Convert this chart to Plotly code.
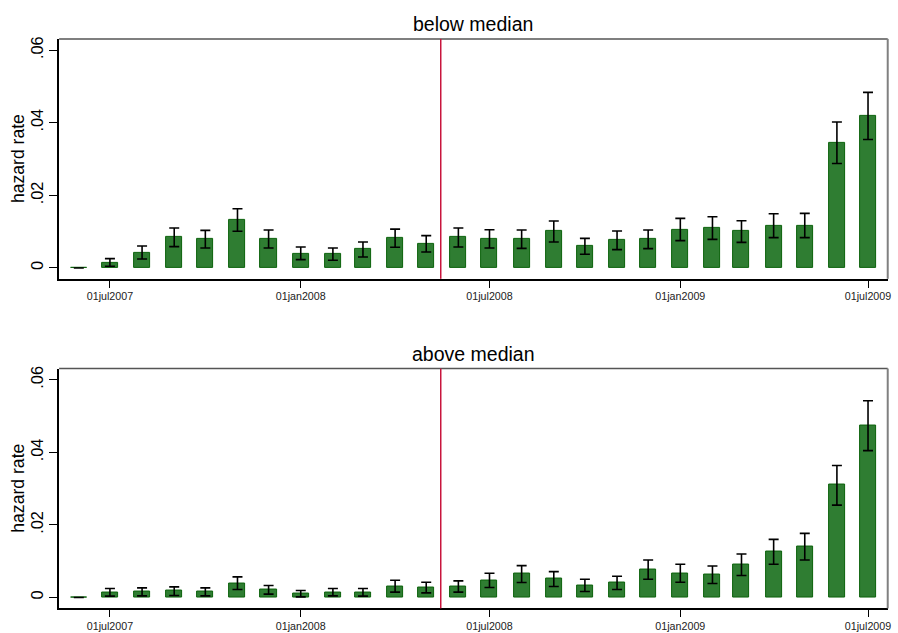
import plotly.graph_objects as go

months = ["2007-06-01", "2007-07-01", "2007-08-01", "2007-09-01", "2007-10-01", "2007-11-01",
          "2007-12-01", "2008-01-01", "2008-02-01", "2008-03-01", "2008-04-01", "2008-05-01",
          "2008-06-01", "2008-07-01", "2008-08-01", "2008-09-01", "2008-10-01", "2008-11-01",
          "2008-12-01", "2009-01-01", "2009-02-01", "2009-03-01", "2009-04-01", "2009-05-01",
          "2009-06-01", "2009-07-01"]

below_rate = [0.0, 0.00147, 0.00421, 0.00852, 0.00806, 0.01328, 0.00806, 0.00394, 0.00385,
              0.00513, 0.00824, 0.00669, 0.00843, 0.00806, 0.00797, 0.01008, 0.00605, 0.0076,
              0.00797, 0.01053, 0.01108, 0.01008, 0.01163, 0.01172, 0.03453, 0.04186]
below_hi = [0.0, 0.00256, 0.00605, 0.0110, 0.01035, 0.0163, 0.01044, 0.00577, 0.0055,
            0.00714, 0.0107, 0.00889, 0.0110, 0.01053, 0.01044, 0.01292, 0.00815, 0.01017,
            0.01044, 0.01365, 0.01411, 0.01301, 0.01493, 0.01502, 0.04021, 0.04837]
below_lo = [0.0, 0.00046, 0.00247, 0.00586, 0.0055, 0.0101, 0.0055, 0.00229, 0.0021,
            0.00302, 0.00568, 0.0044, 0.00577, 0.0055, 0.0054, 0.00714, 0.00376, 0.00504,
            0.00531, 0.00751, 0.00788, 0.00705, 0.00834, 0.00834, 0.02876, 0.03536]

above_rate = [0.0, 0.00137, 0.00156, 0.00183, 0.00165, 0.00394, 0.00211, 0.00101, 0.00137,
              0.00147, 0.00311, 0.00284, 0.00302, 0.00476, 0.0065, 0.00513, 0.0033, 0.00403,
              0.00769, 0.00669, 0.00632, 0.00907, 0.01273, 0.01401, 0.03105, 0.04736]
above_hi = [0.0, 0.00247, 0.00266, 0.00293, 0.00266, 0.00568, 0.0033, 0.00192, 0.00247,
            0.00247, 0.00476, 0.00421, 0.00458, 0.00669, 0.00879, 0.00714, 0.00504, 0.00586,
            0.01035, 0.00916, 0.0087, 0.012, 0.01603, 0.01768, 0.03637, 0.05423]
above_lo = [0.0, 0.00037, 0.00046, 0.00055, 0.00046, 0.0022, 0.00092, 0.00018, 0.00046,
            0.00037, 0.00147, 0.00128, 0.00147, 0.00275, 0.00412, 0.00302, 0.00165, 0.0022,
            0.00504, 0.00421, 0.00385, 0.00605, 0.00916, 0.01035, 0.02546, 0.04049]

panel_titles = ["below median", "above median"]
x_tickvals = ["2007-07-01", "2008-01-01", "2008-07-01", "2009-01-01", "2009-07-01"]
x_ticktext = ["01jul2007", "01jan2008", "01jul2008", "01jan2009", "01jul2009"]
y_tickvals = [0, 0.02, 0.04, 0.06]
y_ticktext = ["0", ".02", ".04", ".06"]
event_date = "2008-05-15"

W, H = 898, 633
FONT = "Liberation Sans, Arial, sans-serif"
BAR_FILL = "#2f7d32"
BAR_LINE = "#0b620b"
x_dom = [59.3 / W, 890.7 / W]
y_doms = [[1 - 277.7 / H, 1 - 37 / H], [1 - 608.3 / H, 1 - 367.7 / H]]
title_y = [1 - 21.7 / H, 1 - 352.7 / H]

fig = go.Figure()
series = [(below_rate, below_hi, below_lo), (above_rate, above_hi, above_lo)]
bar_w = 15.5 * 86400000

annotations = []
shapes = []
for i, (rate, hi, lo) in enumerate(series):
    ax = "" if i == 0 else str(i + 1)
    plus = [h - r for h, r in zip(hi, rate)]
    minus = [r - l for r, l in zip(rate, lo)]
    fig.add_trace(go.Bar(
        x=months, y=rate, width=bar_w, xaxis="x" + ax, yaxis="y" + ax,
        marker=dict(color=BAR_FILL, line=dict(color=BAR_LINE, width=1)),
        error_y=dict(type="data", symmetric=False, array=plus, arrayminus=minus,
                     color="black", thickness=1.6, width=5),
        showlegend=False,
    ))
    xa = dict(domain=x_dom, anchor="y" + ax, type="date",
              range=["2007-05-13", "2009-07-20"],
              tickvals=x_tickvals, ticktext=x_ticktext,
              ticks="outside", ticklen=7, tickwidth=1, tickcolor="black",
              showline=True, linecolor="black", linewidth=1.5,
              showgrid=False, zeroline=False,
              tickfont=dict(family=FONT, size=10.7, color="#222222"))
    ya = dict(domain=y_doms[i], anchor="x" + ax,
              range=[-0.003, 0.0631],
              tickvals=y_tickvals, ticktext=y_ticktext, tickangle=-90,
              ticks="outside", ticklen=8, tickwidth=1, tickcolor="black",
              showline=True, linecolor="black", linewidth=1.5,
              showgrid=False, zeroline=False,
              tickfont=dict(family=FONT, size=16.3, color="black"))
    fig.update_layout({"xaxis" + ax: xa, "yaxis" + ax: ya})

    # top and right frame
    shapes.append(dict(type="line", xref="x" + ax + " domain", yref="y" + ax + " domain",
                       x0=0, x1=1, y0=1, y1=1, line=dict(color="#555555", width=1.5)))
    shapes.append(dict(type="line", xref="x" + ax + " domain", yref="y" + ax + " domain",
                       x0=1, x1=1, y0=0, y1=1, line=dict(color="#808080", width=2)))
    # event line
    shapes.append(dict(type="line", xref="x" + ax, yref="y" + ax + " domain",
                       x0=event_date, x1=event_date, y0=0, y1=1,
                       line=dict(color="#c8143c", width=1.5)))

    annotations.append(dict(text=panel_titles[i], xref="paper", yref="paper",
                            x=(x_dom[0] + x_dom[1]) / 2, y=title_y[i],
                            xanchor="center", yanchor="middle", showarrow=False,
                            font=dict(family=FONT, size=19.5, color="black")))
    annotations.append(dict(text="hazard rate", xref="paper", yref="paper",
                            x=18.3 / W, y=(y_doms[i][0] + y_doms[i][1]) / 2,
                            xanchor="center", yanchor="middle", textangle=-90,
                            showarrow=False,
                            font=dict(family=FONT, size=17.6, color="black")))

fig.update_layout(
    width=W, height=H,
    margin=dict(l=0, r=0, t=0, b=0),
    paper_bgcolor="white", plot_bgcolor="white",
    shapes=shapes, annotations=annotations,
    bargap=0,
)

fig.write_html("out.html", config={"displayModeBar": False})

# remove default page margin so the figure sits at the window's top-left corner
with open("out.html", encoding="utf-8") as f:
    html = f.read()
html = html.replace("<head>", "<head><style>html,body{margin:0;padding:0;overflow:hidden;}</style>", 1)
with open("out.html", "w", encoding="utf-8") as f:
    f.write(html)
